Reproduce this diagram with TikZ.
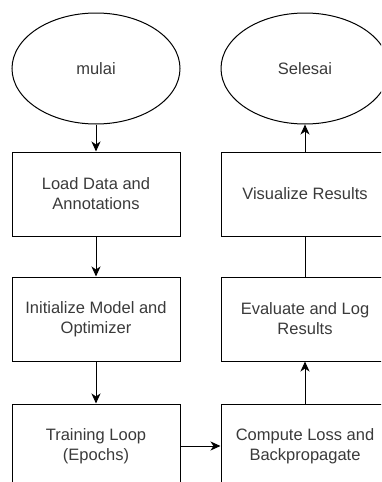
\documentclass[tikz,border=0pt]{standalone}
\usepackage{fontspec}
\setmainfont{Liberation Sans}
\usetikzlibrary{shapes.geometric,arrows.meta}
\definecolor{txt}{HTML}{3A3A3A}
\tikzset{
  base/.style={draw=black, line width=1pt, inner sep=0pt, align=center, text=txt,
    font=\fontsize{16.5}{20}\selectfont},
  term/.style={base, ellipse, minimum width=168pt, minimum height=111pt},
  proc/.style={base, rectangle, minimum width=168pt, minimum height=84pt},
  conn/.style={line width=1pt, draw=black},
  arr/.style={conn, -{Stealth[length=10pt,width=9pt,inset=3pt]}}
}
\begin{document}
\begin{tikzpicture}[x=1pt,y=-1pt]
\useasboundingbox (0,0) rectangle (381,482);
\clip (0,0) rectangle (381,482);
\node[term] (start) at (96,68.5) {mulai};
\node[term] (end) at (305,68.5) {Selesai};
\node[proc] (load) at (96,194) {Load Data and\\Annotations};
\node[proc] (init) at (96,319) {Initialize Model and\\Optimizer};
\node[proc] (train) at (96,446) {Training Loop\\(Epochs)};
\node[proc] (vis) at (305,194) {Visualize Results};
\node[proc] (eval) at (305,319) {Evaluate and Log\\Results};
\node[proc] (comp) at (305,446) {Compute Loss and\\Backpropagate};
\draw[arr] (start) -- (load);
\draw[arr] (load) -- (init);
\draw[arr] (init) -- (train);
\draw[arr] (train) -- (comp);
\draw[arr] (comp) -- (eval);
\draw[conn] (eval) -- (vis);
\draw[arr] (vis) -- (end);
\end{tikzpicture}
\end{document}
